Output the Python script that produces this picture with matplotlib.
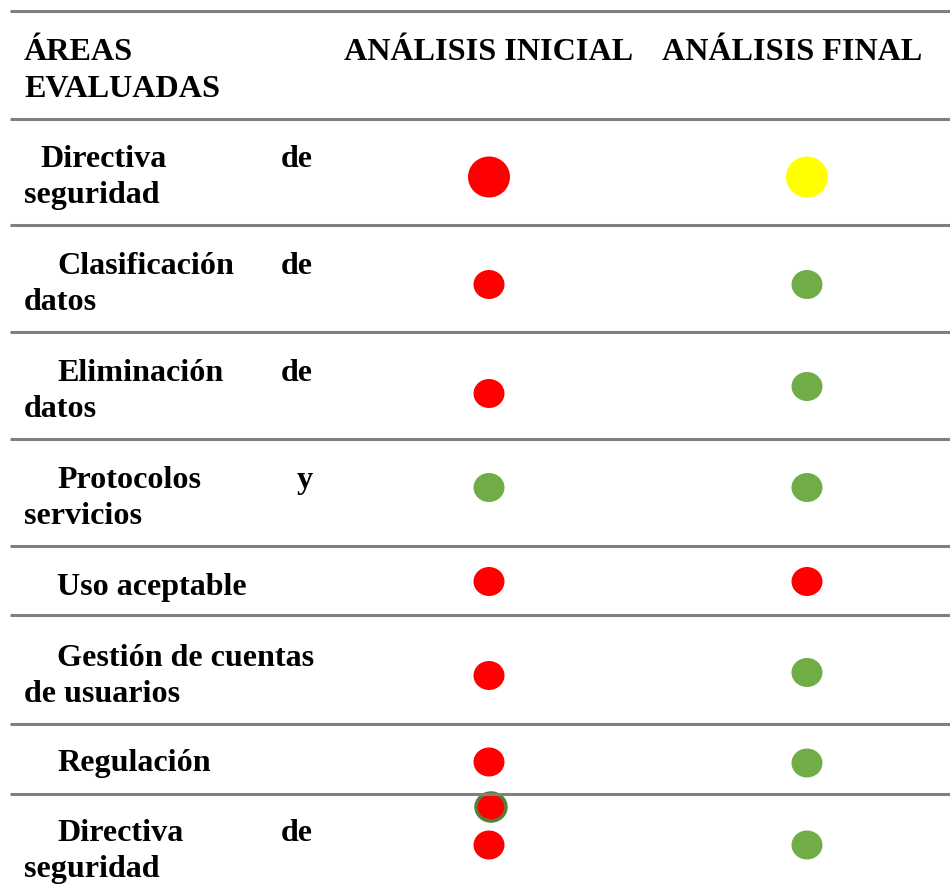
import matplotlib.pyplot as plt
from matplotlib.patches import Ellipse

# table content
headers = ['ÁREAS\nEVALUADAS', 'ANÁLISIS INICIAL', 'ANÁLISIS FINAL']
# each area: (first line words, second line) -- first line is justified
areas = [
    (['Directiva', 'de'], 'seguridad'),
    (['Clasificación', 'de'], 'datos'),
    (['Eliminación', 'de'], 'datos'),
    (['Protocolos', 'y'], 'servicios'),
    (['Uso aceptable'], ''),
    (['Gestión de cuentas'], 'de usuarios'),
    (['Regulación'], ''),
    (['Directiva', 'de'], 'seguridad'),
]
inicial = ['rojo', 'rojo', 'rojo', 'verde', 'rojo', 'rojo', 'rojo', 'rojo']
final = ['amarillo', 'verde', 'verde', 'verde', 'rojo', 'verde', 'verde', 'verde']

colores = {'rojo': '#FF0000', 'amarillo': '#FFFF00', 'verde': '#70AD47'}

# layout (pixel units)
W, H = 950, 895
row_lines = [12, 120, 226, 333, 440, 547, 616, 725, 795]
row_edges = row_lines + [H]
baselines = [167, 274, 381, 488, 595, 666, 771, 841]
indent = [40, 57, 57, 57, 57, 57, 57, 57]
x_ini, x_fin = 489, 807
dot_dy_ini = [5, 6, 8, -5, 1, 6, 3, 1]
dot_dy_fin = [5, 6, 1, -5, 1, 3, 4, 1]
sizes = [(42, 41)] + [(31, 29)] * 7

font = dict(family='Liberation Serif', fontweight='bold', fontsize=23.1, color='black')

fig = plt.figure(figsize=(9.5, 8.95), dpi=100)
ax = fig.add_axes([0, 0, 1, 1])
ax.set_xlim(0, W)
ax.set_ylim(H, 0)
ax.axis('off')

for y in row_lines:
    ax.plot([10, W], [y, y], color='#808080', lw=2.2, solid_capstyle='butt')

# header
top_line, bottom_line = headers[0].split('\n')
ax.text(24, 60, top_line, ha='left', va='baseline', **font)
ax.text(24, 97, bottom_line, ha='left', va='baseline', **font)
ax.text(344, 60, headers[1], ha='left', va='baseline', **font)
ax.text(662, 60, headers[2], ha='left', va='baseline', **font)

for i, (first, second) in enumerate(areas):
    yc = (row_edges[i + 1] + row_edges[i + 2]) / 2
    b = baselines[i]
    ax.text(indent[i], b, first[0], ha='left', va='baseline', **font)
    if len(first) > 1:
        ax.text(313, b, first[-1], ha='right', va='baseline', **font)
    if second:
        ax.text(24, b + 36, second, ha='left', va='baseline', **font)

    w, h = sizes[i]
    ax.add_patch(Ellipse((x_ini, yc + dot_dy_ini[i]), w, h, color=colores[inicial[i]], lw=0))
    ax.add_patch(Ellipse((x_fin, yc + dot_dy_fin[i]), w, h, color=colores[final[i]], lw=0))

# stray marker overlapping the last row line
ax.add_patch(Ellipse((491, 808), 30, 28, facecolor=colores['rojo'],
                     edgecolor='#548235', lw=2.5))

fig.savefig('out.png', dpi=100, facecolor='white')
